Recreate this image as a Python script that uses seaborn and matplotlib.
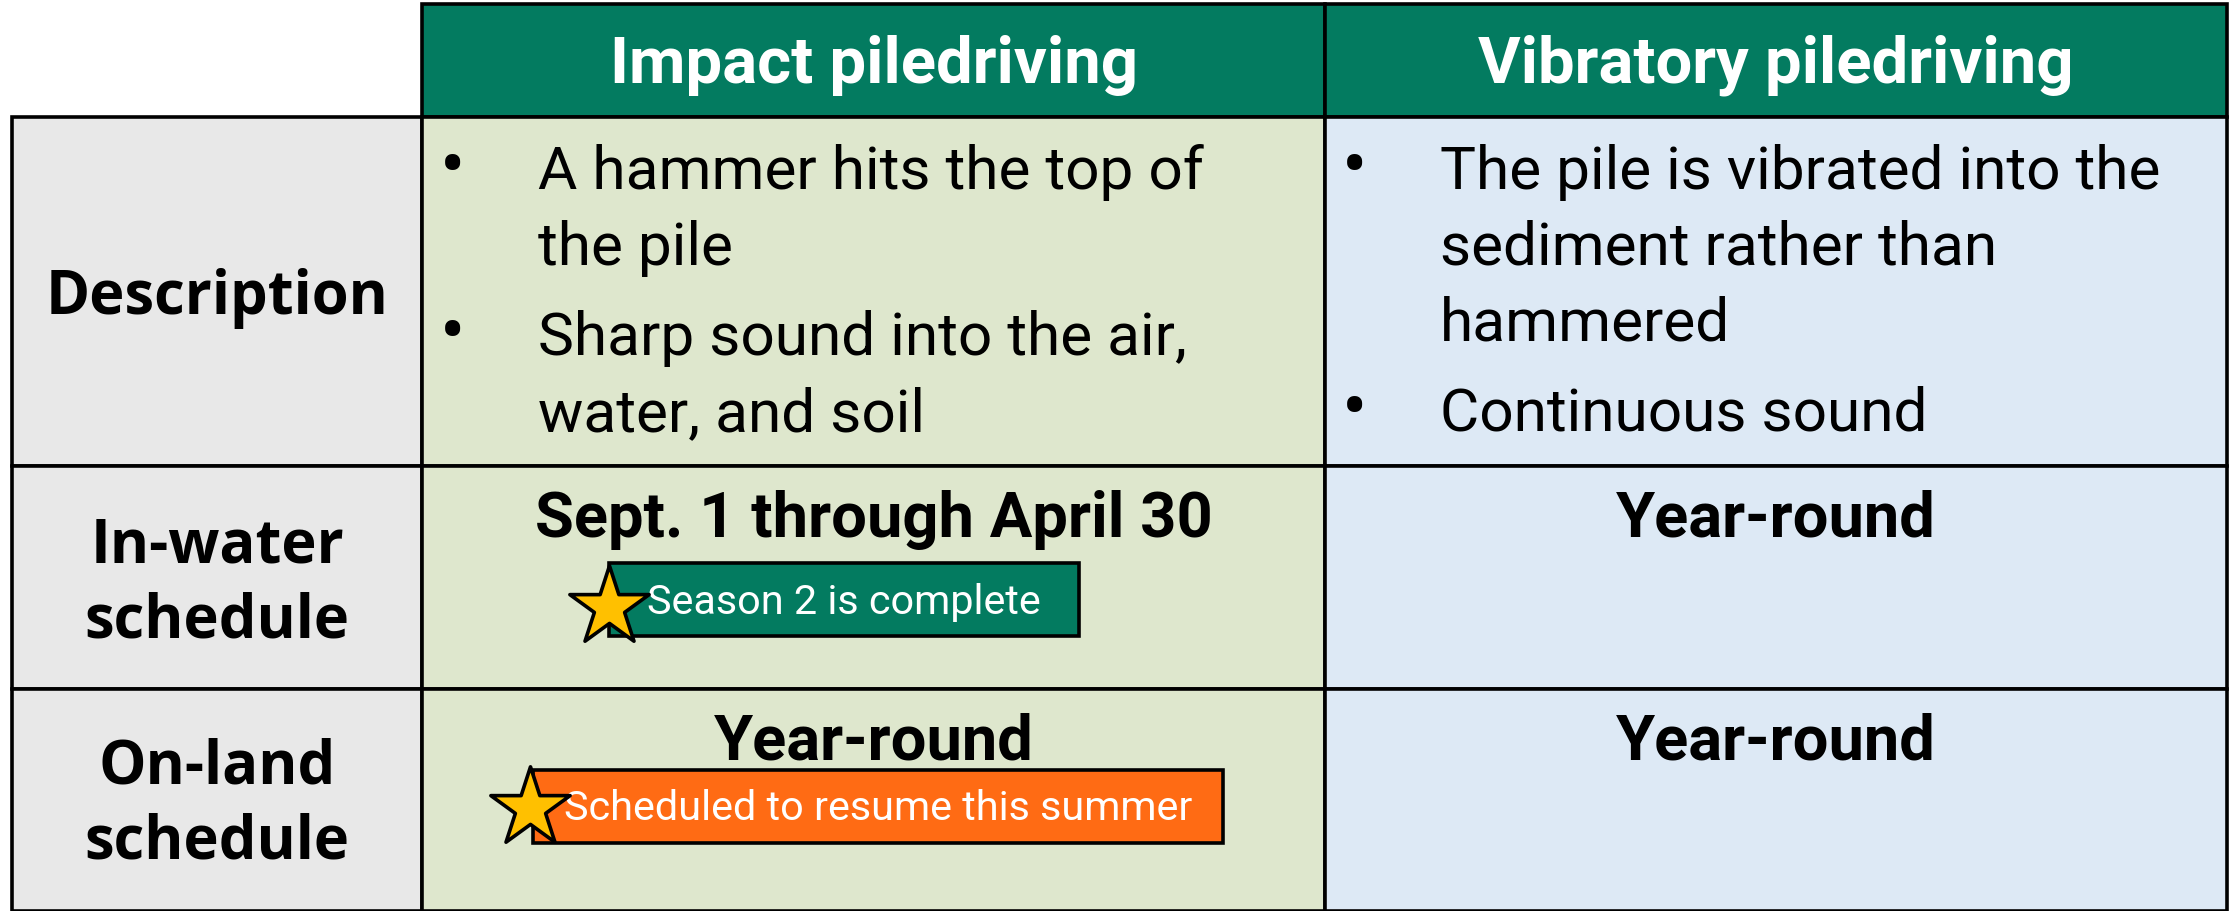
import matplotlib
matplotlib.use("Agg")
import matplotlib.pyplot as plt
import seaborn as sb
from matplotlib.patches import Rectangle

# table content
columnTitles = ["Impact piledriving", "Vibratory piledriving"]
rowLabels = [["Description"], ["In-water", "schedule"], ["On-land", "schedule"]]
impactBullets = [["A hammer hits the top of", "the pile"], ["Sharp sound into the air,", "water, and soil"]]
vibratoryBullets = [["The pile is vibrated into the", "sediment rather than", "hammered"], ["Continuous sound"]]
inWaterText = ["Sept. 1 through April 30", "Year-round"]
onLandText = ["Year-round", "Year-round"]
badgeText = ["Season 2 is complete", "Scheduled to resume this summer"]

# layout in pixels (figure is 2236 x 912)
W, H = 2236, 912
colEdges = [12, 422, 1325, 2227]
rowEdges = [5, 118, 467, 690, 912]
cellColors = ["#E8E8E8", "#DEE7CD", "#DDE9F5"]
headerColor = "#037B60"
orangeColor = "#FF6B14"
starColor = "#FFC000"

sb.set_theme(style="white")
plt.rcParams['font.family'] = ['Roboto', 'DejaVu Sans']
plt.rcParams['text.color'] = 'black'

fig = plt.figure(figsize=(W/100, H/100), dpi=100)
ax = fig.add_axes([0, 0, 1, 1])
ax.set_xlim(0, W)
ax.set_ylim(H, 0)
ax.axis("off")

lw = 2.6
#header cells
for c in range(2):
    x0, x1 = colEdges[c+1], colEdges[c+2]
    ax.add_patch(Rectangle((x0, rowEdges[0]), x1-x0, rowEdges[1]-rowEdges[0], facecolor=headerColor, edgecolor="black", lw=lw))
    ax.text((x0+x1)/2, 83, columnTitles[c], color="white", fontsize=47, fontweight="bold", ha="center", va="baseline")

#body cells
for r in range(3):
    y0, y1 = rowEdges[r+1], rowEdges[r+2]
    for c in range(3):
        x0, x1 = colEdges[c], colEdges[c+1]
        ax.add_patch(Rectangle((x0, y0), x1-x0, y1-y0, facecolor=cellColors[c], edgecolor="black", lw=lw))

#row labels
labelBaselines = [[314], [563, 638], [784, 859]]
for r in range(3):
    for line, yb in zip(rowLabels[r], labelBaselines[r]):
        ax.text(217, yb, line, fontsize=43, fontweight="bold", family=["Open Sans", "DejaVu Sans"], ha="center", va="baseline")

#description bullets
def draw_bullets(bullets, xBullet, xText, yStart, lineStep, bulletGap):
    y = yStart
    for b in bullets:
        ax.text(xBullet, y, "\u2022", fontsize=54, ha="center", va="baseline")
        for line in b:
            ax.text(xText, y, line, fontsize=43.5, ha="left", va="baseline")
            y += lineStep
        y += bulletGap - lineStep

draw_bullets(impactBullets, 453, 538, 189, 76, 90)
draw_bullets(vibratoryBullets, 1355, 1440, 189, 76, 90)

#schedule rows
colCenters = [(colEdges[1]+colEdges[2])/2, (colEdges[2]+colEdges[3])/2]
for c in range(2):
    ax.text(colCenters[c], 537, inWaterText[c], fontsize=45.5, fontweight="bold", ha="center", va="baseline")
    ax.text(colCenters[c], 760, onLandText[c], fontsize=45.5, fontweight="bold", ha="center", va="baseline")

#status badges with stars
badgeBoxes = [(609, 564, 1079, 637), (533, 771, 1223, 844)]
badgeColors = [headerColor, orangeColor]
badgeBaselines = [614, 820]
for i in range(2):
    x0, y0, x1, y1 = badgeBoxes[i]
    ax.add_patch(Rectangle((x0, y0), x1-x0, y1-y0, facecolor=badgeColors[i], edgecolor="black", lw=2.6, zorder=3))
    ax.text((x0+x1)/2, badgeBaselines[i], badgeText[i], color="white", fontsize=29.8, ha="center", va="baseline", zorder=4)
starX = [609, 530]
starY = [608, 809]
sb.scatterplot(x=starX, y=starY, marker="*", s=60**2, color=starColor, edgecolor="black", linewidth=2.6, ax=ax, zorder=5, legend=False)

fig.savefig("out.png", dpi=100)
